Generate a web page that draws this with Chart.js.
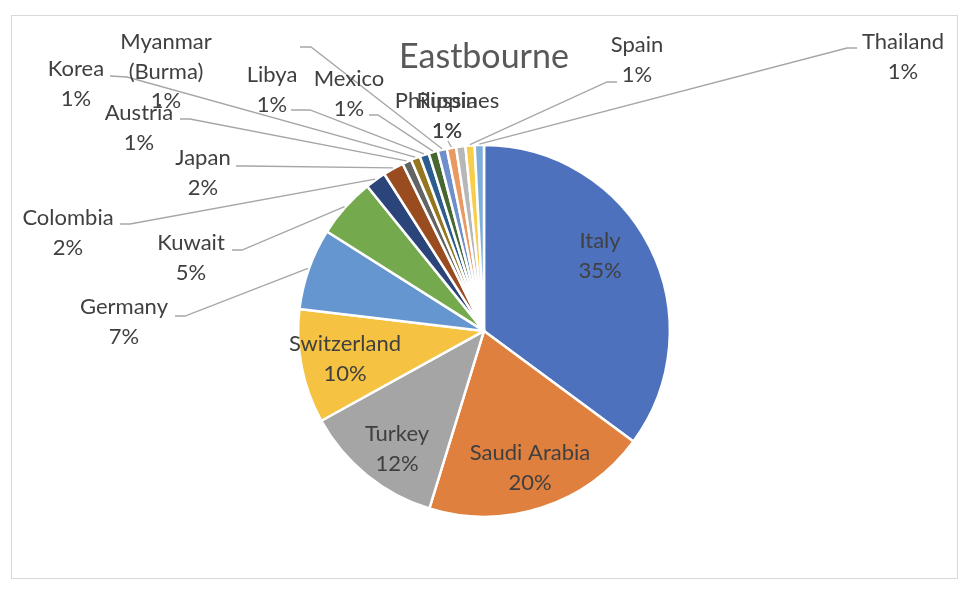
<!DOCTYPE html>
<html>
<head>
<meta charset="utf-8">
<title>Eastbourne</title>
<script src="https://cdn.jsdelivr.net/npm/chart.js@4/dist/chart.umd.min.js"></script>
<style>
  html, body { margin: 0; padding: 0; background: #fff; }
  canvas { display: block; }
</style>
</head>
<body>
<canvas id="pie" width="966" height="597"></canvas>
<script>
// ---- data
const countries = ['Italy', 'Saudi Arabia', 'Turkey', 'Switzerland', 'Germany', 'Kuwait',
                   'Colombia', 'Japan', 'Austria', 'Korea', 'Libya', 'Mexico',
                   'Myanmar (Burma)', 'Philippines', 'Russia', 'Spain', 'Thailand'];
const shares = [35.1, 19.6, 12.2, 9.9, 7.1, 5.2,
                1.8, 1.8, 0.8, 0.8, 0.8, 0.8,
                0.8, 0.8, 0.8, 0.8, 0.8];
const chartTitle = 'Eastbourne';

// ---- styles
const sliceColors = ['#4E71BE', '#E0803F', '#A5A5A5', '#F5C242', '#6596CF', '#74A94E',
                     '#2B4479', '#994C1F', '#636363', '#94761E', '#2D5C8F', '#476731',
                     '#6E8ECC', '#E99A63', '#B7B7B7', '#F8CD4A', '#80AEDB'];
const FONT = 'Lato, "Open Sans", sans-serif';
const textCol = '#404040';
const lineCol = '#A6A6A6';
// where excel put each data label: x,y of first line, and leader start/elbow
const labelAt = [
  {x: 600, y: 241},
  {x: 530, y: 453},
  {x: 397, y: 434},
  {x: 345, y: 344},
  {x: 124, y: 307, lead: [175, 316, 185, 316]},
  {x: 191, y: 243, lead: [232, 250, 242, 250]},
  {x: 68,  y: 218, lead: [120, 224, 130, 224]},
  {x: 203, y: 158, lead: [236, 166, 246, 166]},
  {x: 139, y: 113, lead: [180, 119, 190, 119]},
  {x: 76,  y: 69,  lead: [110, 76, 127, 77]},
  {x: 272, y: 75,  lead: [291, 110, 310, 110]},
  {x: 349, y: 79,  lead: [369, 115, 378, 115]},
  {x: 166, y: 42,  lead: [300, 47, 311, 47], wrap: true},
  {x: 447, y: 101, lead: [448, 141, 448, 141]},
  {x: 447, y: 101},
  {x: 637, y: 45,  lead: [617, 82, 607, 82]},
  {x: 903, y: 42,  lead: [857, 48, 847, 48]}
];

// ---- plugin: outer frame
const framePlugin = {
  id: 'frame',
  beforeDraw(chart) {
    const ctx = chart.ctx;
    ctx.save();
    ctx.fillStyle = '#fff';
    ctx.fillRect(0, 0, chart.width, chart.height);
    ctx.strokeStyle = '#D9D9D9';
    ctx.lineWidth = 1;
    ctx.strokeRect(11.5, 15.5, 946, 563);
    ctx.restore();
  }
};

// ---- plugin: category + percent labels with leader lines
const labelPlugin = {
  id: 'sliceLabels',
  afterDatasetsDraw(chart) {
    const ctx = chart.ctx;
    const meta = chart.getDatasetMeta(0);
    const total = shares.reduce((a, b) => a + b, 0);
    ctx.save();
    // leader lines first
    ctx.strokeStyle = lineCol;
    ctx.lineWidth = 1.3;
    meta.data.forEach(function (arc, i) {
      const p = labelAt[i];
      if (!p.lead) return;
      const mid = (arc.startAngle + arc.endAngle) / 2;
      const r = arc.outerRadius + 1;
      const tx = arc.x + Math.cos(mid) * r;
      const ty = arc.y + Math.sin(mid) * r;
      ctx.beginPath();
      ctx.moveTo(p.lead[0], p.lead[1]);
      ctx.lineTo(p.lead[2], p.lead[3]);
      ctx.lineTo(tx, ty);
      ctx.stroke();
    });
    // text
    ctx.fillStyle = textCol;
    ctx.font = '22px ' + FONT;
    ctx.textAlign = 'center';
    ctx.textBaseline = 'middle';
    meta.data.forEach(function (arc, i) {
      const p = labelAt[i];
      let lines = p.wrap ? countries[i].split(' ') : [countries[i]];
      lines.push(Math.round(shares[i] / total * 100) + '%');
      lines.forEach(function (t, k) {
        ctx.fillText(t, p.x, p.y + k * 29.5);
      });
    });
    ctx.restore();
  }
};

new Chart(document.getElementById('pie'), {
  type: 'pie',
  data: {
    labels: countries,
    datasets: [{
      data: shares,
      backgroundColor: sliceColors,
      borderColor: '#ffffff',
      borderWidth: 2.5
    }]
  },
  options: {
    responsive: false,
    animation: false,
    layout: {padding: {left: 2, right: 0, top: 0, bottom: 79}},
    plugins: {
      legend: {display: false},
      tooltip: {enabled: false},
      title: {
        display: true,
        text: chartTitle,
        color: '#595959',
        font: {family: FONT, size: 34, weight: 'normal'},
        padding: {top: 37, bottom: 66}
      }
    }
  },
  plugins: [framePlugin, labelPlugin]
});
</script>
</body>
</html>
